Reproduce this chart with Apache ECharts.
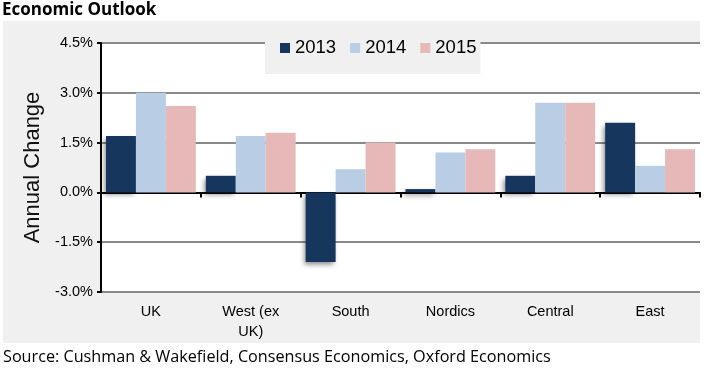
<!DOCTYPE html>
<html><head><meta charset="utf-8">
<script src="https://cdn.jsdelivr.net/npm/echarts@6/dist/echarts.min.js"></script>
<style>html,body{margin:0;padding:0;background:#fff}#c{width:704px;height:380px}</style>
</head><body><div id="c"></div>
<script>
const categories = ['UK', 'West (ex UK)', 'South', 'Nordics', 'Central', 'East'];
const seriesNames = ['2013', '2014', '2015'];
const values2013 = [1.7, 0.5, -2.1, 0.1, 0.5, 2.1];
const values2014 = [3.0, 1.7, 0.7, 1.2, 2.7, 0.8];
const values2015 = [2.6, 1.8, 1.5, 1.3, 2.7, 1.3];
const yMin = -3.0, yMax = 4.5, yStep = 1.5;
const titleText = 'Economic Outlook';
const sourceText = 'Source: Cushman & Wakefield, Consensus Economics, Oxford Economics';
const yAxisName = 'Annual Change';

const ARIAL = '"Liberation Sans", Arial, sans-serif';
const HUMANIST = '"Open Sans", "Noto Sans", sans-serif';
const colors = ['#17365d', '#b9cde5', '#e6b9b8'];
const seriesData = [values2013, values2014, values2015];

const chart = echarts.init(document.getElementById('c'), null, {renderer: 'canvas'});
chart.setOption({
  animation: false,
  backgroundColor: '#ffffff',
  title: {
    text: titleText, left: 0, top: 0, padding: [2, 2],
    textStyle: {fontFamily: HUMANIST, fontWeight: 'bold', fontSize: 17, color: '#000'}
  },
  graphic: [
    {type: 'rect', z: -100, shape: {x: 3, y: 21, width: 697, height: 322}, style: {fill: '#f0f0f0'}},
    {type: 'text', x: 3, y: 357, style: {text: sourceText, font: '16.2px "Open Sans", "Noto Sans", sans-serif', fill: '#000', textVerticalAlign: 'middle'}}
  ],
  legend: {
    data: seriesNames, left: 265, top: 21, icon: 'rect', itemWidth: 10, itemHeight: 10, itemGap: 14,
    padding: [17, 4, 16, 15], backgroundColor: '#f0f0f0',
    textStyle: {fontFamily: ARIAL, fontSize: 18.5, lineHeight: 20, color: '#000'}
  },
  grid: {left: 101, right: 4, top: 43, bottom: 88, show: true, backgroundColor: '#ffffff', borderWidth: 0, containLabel: false},
  xAxis: [
    {
      type: 'category', data: categories, position: 'bottom',
      axisLine: {show: true, onZero: true, lineStyle: {color: '#000', width: 2}},
      axisTick: {show: true, length: 5, lineStyle: {color: '#000', width: 2}},
      axisLabel: {show: false}, splitLine: {show: false}
    },
    {
      type: 'category', data: categories, position: 'bottom',
      axisLine: {show: false, onZero: false}, axisTick: {show: false}, splitLine: {show: false},
      axisLabel: {
        show: true, margin: 10, fontFamily: ARIAL, fontSize: 14.5, lineHeight: 20, color: '#000',
        formatter: v => v.replace('(ex ', '(ex\n')
      }
    }
  ],
  yAxis: {
    type: 'value', min: yMin, max: yMax, interval: yStep,
    name: yAxisName, nameLocation: 'middle', nameGap: 57,
    nameTextStyle: {fontFamily: ARIAL, fontSize: 22, color: '#111'},
    axisLine: {show: true, onZero: false, lineStyle: {color: '#000', width: 2}},
    axisTick: {show: true, length: 4, lineStyle: {color: '#000', width: 2}},
    axisLabel: {margin: 8, fontFamily: ARIAL, fontSize: 14.5, color: '#000', formatter: v => v.toFixed(1) + '%'},
    splitLine: {show: true, lineStyle: {color: '#898989', width: 2}}
  },
  series: seriesNames.map((name, i) => ({
    name, type: 'bar', xAxisIndex: 0, data: seriesData[i],
    barGap: '0%', barCategoryGap: '10%',
    itemStyle: Object.assign({color: colors[i]}, i === 0 ? {shadowColor: 'rgba(0,0,0,0.45)', shadowBlur: 5, shadowOffsetX: -2, shadowOffsetY: 3} : {})
  }))
});
</script></body></html>
